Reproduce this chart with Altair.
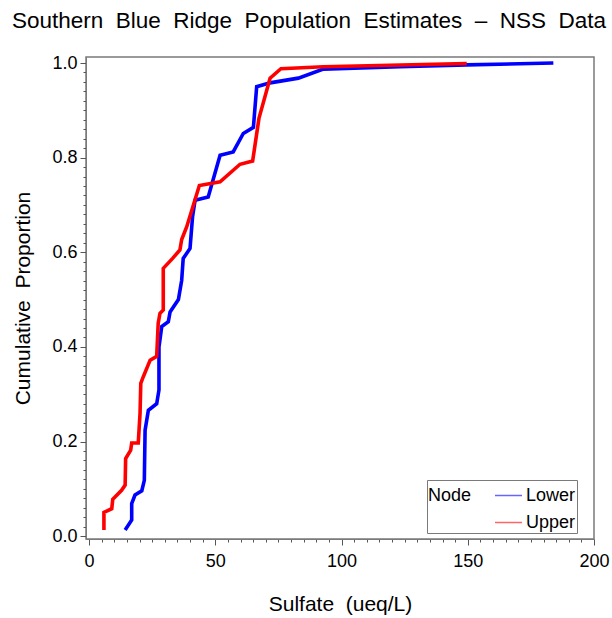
import altair as alt
import pandas as pd

# Lower node (blue)
lower_x = [14.3, 16.9, 16.9, 18.2, 20.9, 21.9, 22.2, 23.5, 26.8, 27.7, 27.7, 28.8, 31.4, 32.1, 35.4, 36.7,
           37.3, 40.0, 41.0, 42.0, 47.2, 51.9, 57.1, 61.1, 65.1, 66.4, 71.7, 82.9, 92.8, 123.2, 149.6, 183.9]
lower_y = [0.013, 0.034, 0.069, 0.087, 0.096, 0.118, 0.224, 0.266, 0.280, 0.309, 0.400, 0.443, 0.453, 0.474, 0.500, 0.541,
           0.587, 0.608, 0.675, 0.710, 0.717, 0.805, 0.812, 0.851, 0.864, 0.950, 0.958, 0.968, 0.987, 0.992, 0.996, 1.000]

# Upper node (red)
upper_x = [5.9, 5.9, 9.0, 9.4, 12.9, 14.3, 14.5, 16.5, 16.9, 19.5, 20.2, 20.5, 21.5, 24.2, 26.8, 27.4, 28.1, 29.4,
           29.4, 33.1, 36.0, 36.7, 38.7, 43.7, 51.9, 59.8, 64.8, 67.3, 71.7, 76.0, 92.8, 149.6]
upper_y = [0.013, 0.050, 0.058, 0.078, 0.097, 0.108, 0.164, 0.182, 0.197, 0.197, 0.259, 0.323, 0.337, 0.372, 0.380, 0.450, 0.471, 0.478,
           0.566, 0.587, 0.605, 0.627, 0.654, 0.741, 0.749, 0.786, 0.793, 0.883, 0.968, 0.988, 0.992, 0.999]

rows = []
for i, (x, y) in enumerate(zip(lower_x, lower_y)):
    rows.append({"Node": "Lower", "sulfate": x, "prop": y, "i": i})
for i, (x, y) in enumerate(zip(upper_x, upper_y)):
    rows.append({"Node": "Upper", "sulfate": x, "prop": y, "i": i})
df = pd.DataFrame(rows)

FONT = "Liberation Sans"
GRAY = "#7a7a7a"
NB = "\u00a0"
SP = NB * 2

x_ticks = [v * 5 for v in range(0, 41)]
y_ticks = [round(v * 0.02, 2) for v in range(0, 51)]

x_axis = alt.Axis(
    values=x_ticks,
    labelExpr="datum.value % 50 === 0 ? datum.label : ''",
    tickSize={"condition": {"test": "datum.value % 50 === 0", "value": 6}, "value": 3},
    title="Sulfate" + SP + "(ueq/L)",
    labelFontSize=18, titleFontSize=21, labelFont=FONT, titleFont=FONT,
    labelColor="black", titleColor="black", titleFontWeight="normal",
    domainColor=GRAY, tickColor="#555555", labelPadding=7, titlePadding=23,
    grid=False, labelOverlap=False, labelFlush=False,
)
y_axis = alt.Axis(
    values=y_ticks,
    labelExpr="abs(datum.value*5 - round(datum.value*5)) < 1e-6 ? format(datum.value, '.1f') : ''",
    tickSize={"condition": {"test": "abs(datum.value*5 - round(datum.value*5)) < 1e-6", "value": 6}, "value": 3},
    title="Cumulative" + SP + "Proportion",
    labelFontSize=18, titleFontSize=21, labelFont=FONT, titleFont=FONT,
    labelColor="black", titleColor="black", titleFontWeight="normal",
    domainColor=GRAY, tickColor="#555555", labelPadding=3, titlePadding=18,
    grid=False, labelOverlap=False, labelFlush=False,
)

chart = alt.Chart(df).mark_line(strokeWidth=3.6, clip=True).encode(
    x=alt.X("sulfate:Q", scale=alt.Scale(domain=[-1.2, 200], nice=False, zero=False), axis=x_axis),
    y=alt.Y("prop:Q", scale=alt.Scale(domain=[-0.006, 1.0127], nice=False, zero=False), axis=y_axis),
    color=alt.Color("Node:N",
                    scale=alt.Scale(domain=["Lower", "Upper"], range=["#0000ff", "#ff0000"]),
                    title=NB + "Node",
                    legend=alt.Legend(
                        orient="none", legendX=341, legendY=423,
                        titleOrient="left", direction="vertical",
                        titleAnchor="start", titleBaseline="line-top", titleLineHeight=30,
                        symbolType="stroke", symbolStrokeWidth=1.5, symbolSize=729, symbolOpacity=0.6,
                        labelFontSize=18, titleFontSize=18, labelFont=FONT, titleFont=FONT,
                        labelExpr="datum.label + '\u00a0\u00a0\u00a0'",
                        titleFontWeight="normal", labelColor="black", titleColor="black",
                        fillColor="white", strokeColor=GRAY, padding=1,
                        titlePadding=22, labelOffset=3, rowPadding=3,
                    )),
    order="i:Q",
).properties(
    width=508, height=482,
    title=alt.TitleParams(SP.join(["Southern", "Blue", "Ridge", "Population", "Estimates", "–", "NSS", "Data"]),
                          font=FONT, fontSize=22.5, fontWeight="normal", color="black",
                          anchor="middle", dx=-31, offset=22),
    autosize=alt.AutoSizeParams(type="none"),
    padding={"left": 86, "top": 57, "right": 18, "bottom": 79},
).configure_view(stroke=GRAY, strokeWidth=1.5)

chart.save("out.html", embed_options={"renderer": "svg", "actions": False})
